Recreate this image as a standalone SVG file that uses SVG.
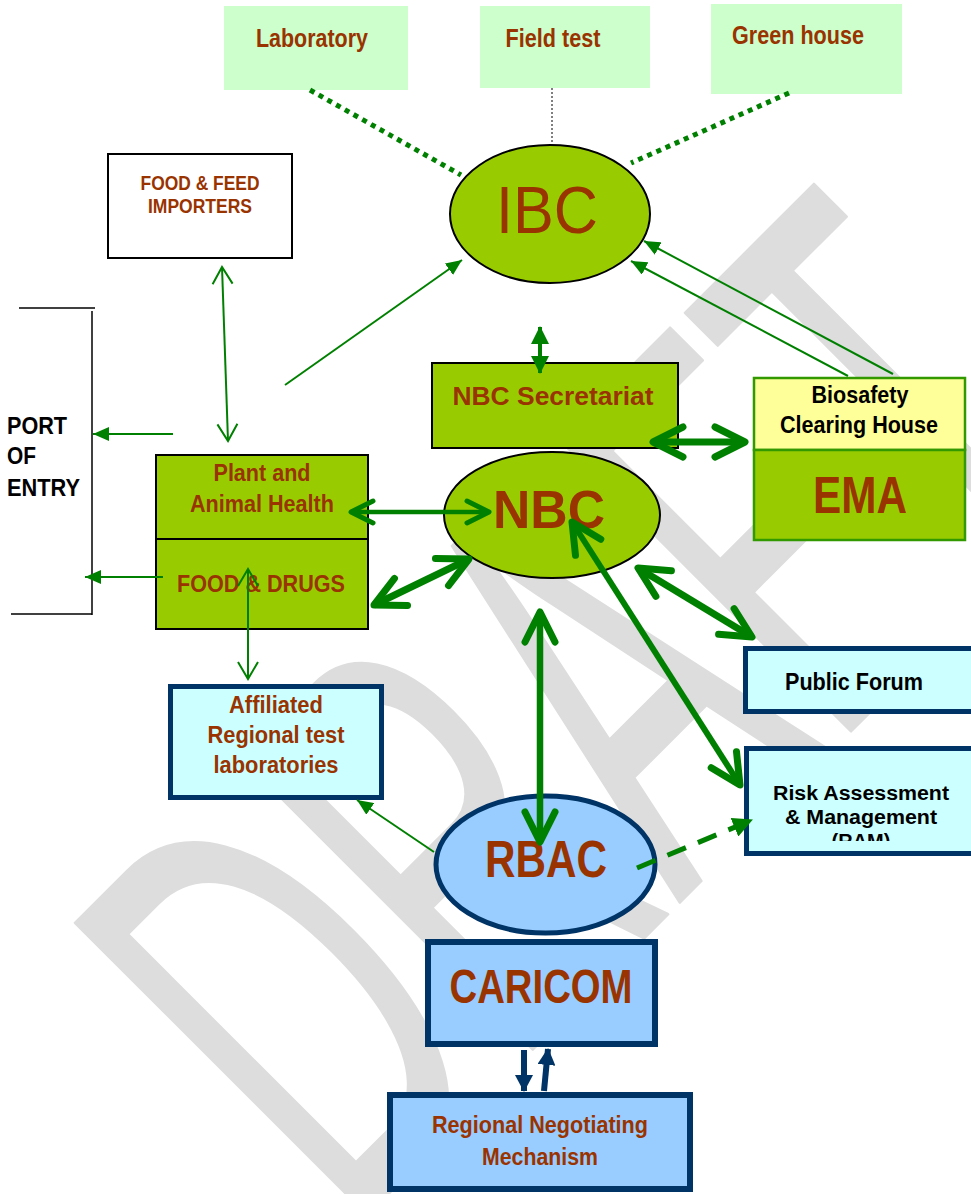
<svg xmlns="http://www.w3.org/2000/svg" width="971" height="1194" viewBox="0 0 971 1194">
<style>
.br{font-family:"Liberation Sans",Arial,sans-serif;font-weight:bold;fill:#993300;text-anchor:middle}
.bk{font-family:"Liberation Sans",Arial,sans-serif;font-weight:bold;fill:#000;text-anchor:middle}
.tn{stroke:#008000;stroke-width:2;fill:none}
.tk{stroke:#008000;fill:none;stroke-linecap:butt}
.bl{stroke:#003366;stroke-width:6;fill:none}
.g1{fill:#ccffcc}
.gr{fill:#99cc00;stroke:#000;stroke-width:2}
.cy{fill:#ccffff;stroke:#003366;stroke-width:5}
.lb{fill:#99ccff;stroke:#003366;stroke-width:6}
</style>
<defs>
<marker id="fa" viewBox="0 0 16 14" refX="16" refY="7" markerWidth="16" markerHeight="14" markerUnits="userSpaceOnUse" orient="auto"><path d="M0,0 L16,7 L0,14 z" fill="#008000"/></marker>
<marker id="vt" viewBox="-20 -12 22 24" refX="0" refY="0" markerWidth="22" markerHeight="24" markerUnits="userSpaceOnUse" orient="auto-start-reverse"><path d="M-17,-10 L0,0 L-17,10" fill="none" stroke="#008000" stroke-width="2"/></marker>
<marker id="vm" viewBox="-28 -16 32 32" refX="0" refY="0" markerWidth="32" markerHeight="32" markerUnits="userSpaceOnUse" orient="auto-start-reverse"><path d="M-22,-11 L0,0 L-22,11" fill="none" stroke="#008000" stroke-width="5" stroke-linecap="round" stroke-linejoin="round"/></marker>
<marker id="vk" viewBox="-36 -20 40 40" refX="0" refY="0" markerWidth="40" markerHeight="40" markerUnits="userSpaceOnUse" orient="auto-start-reverse"><path d="M-30,-15 L0,0 L-30,15" fill="none" stroke="#008000" stroke-width="7" stroke-linecap="round" stroke-linejoin="round"/></marker>
<marker id="ft" viewBox="0 0 18 18" refX="17" refY="9" markerWidth="18" markerHeight="18" markerUnits="userSpaceOnUse" orient="auto-start-reverse"><path d="M0,0 L18,9 L0,18 z" fill="#008000"/></marker>
<marker id="fd" viewBox="0 0 20 20" refX="19" refY="10" markerWidth="20" markerHeight="20" markerUnits="userSpaceOnUse" orient="auto"><path d="M0,0 L20,10 L0,20 z" fill="#008000"/></marker>
<marker id="fb" viewBox="0 0 17 18" refX="16" refY="9" markerWidth="17" markerHeight="18" markerUnits="userSpaceOnUse" orient="auto"><path d="M0,0 L17,9 L0,18 z" fill="#003366"/></marker>
<clipPath id="ramclip"><rect x="744" y="746" width="227" height="95"/></clipPath>
</defs>

<g id="watermark">
<text transform="translate(348,1234) rotate(-45) scale(0.54,1)" font-family="Liberation Sans" font-size="600" fill="#dddddd" stroke="#dddddd" stroke-width="3" stroke-linejoin="round">DRAFT</text>
</g>

<g id="port-bracket" stroke="#000" stroke-width="1.5" fill="none">
<line x1="19" y1="308" x2="95" y2="308"/>
<line x1="92" y1="311" x2="92" y2="615"/>
<line x1="11" y1="614" x2="92" y2="614"/>
</g>

<g id="laboratory"><rect class="g1" x="224" y="6" width="184" height="84"/><text class="br" x="312" y="47" font-size="25" textLength="112" lengthAdjust="spacingAndGlyphs">Laboratory</text></g>
<g id="field-test"><rect class="g1" x="480" y="6" width="170" height="82"/><text class="br" x="553" y="47" font-size="25" textLength="95" lengthAdjust="spacingAndGlyphs">Field test</text></g>
<g id="green-house"><rect class="g1" x="711" y="4" width="191" height="90"/><text class="br" x="798" y="44" font-size="25" textLength="132" lengthAdjust="spacingAndGlyphs">Green house</text></g>

<g id="food-feed-importers"><rect x="108" y="154" width="184" height="104" fill="#fff" stroke="#000" stroke-width="2"/>
<text class="br" x="200" y="190" font-size="21" textLength="119" lengthAdjust="spacingAndGlyphs">FOOD &amp; FEED</text>
<text class="br" x="200" y="213" font-size="21" textLength="104" lengthAdjust="spacingAndGlyphs">IMPORTERS</text></g>

<g id="port-of-entry">
<text class="bk" style="text-anchor:start" x="7" y="434" font-size="24" textLength="60" lengthAdjust="spacingAndGlyphs">PORT</text>
<text class="bk" style="text-anchor:start" x="7" y="464" font-size="24" textLength="29" lengthAdjust="spacingAndGlyphs">OF</text>
<text class="bk" style="text-anchor:start" x="7" y="496" font-size="24" textLength="73" lengthAdjust="spacingAndGlyphs">ENTRY</text>
</g>

<g id="ibc"><ellipse class="gr" cx="550" cy="214" rx="100" ry="69"/><text x="547" y="233" font-family="Liberation Sans, Arial, sans-serif" font-size="66" fill="#993300" text-anchor="middle" textLength="102" lengthAdjust="spacingAndGlyphs">IBC</text></g>

<g id="plant-animal-health"><rect class="gr" x="156" y="455" width="212" height="84"/>
<text class="br" x="262" y="481" font-size="23" textLength="97" lengthAdjust="spacingAndGlyphs">Plant and</text>
<text class="br" x="262" y="512" font-size="23" textLength="144" lengthAdjust="spacingAndGlyphs">Animal Health</text></g>
<g id="food-drugs"><rect class="gr" x="156" y="539" width="212" height="90"/>
<text class="br" x="261" y="592" font-size="24" textLength="168" lengthAdjust="spacingAndGlyphs">FOOD &amp; DRUGS</text></g>

<g id="nbc-secretariat"><rect class="gr" x="432" y="363" width="246" height="85"/>
<text class="br" x="553" y="405" font-size="26" textLength="201" lengthAdjust="spacingAndGlyphs">NBC Secretariat</text></g>

<g id="biosafety-clearing-house"><rect x="754" y="378" width="211" height="72" fill="#ffff99" stroke="#339900" stroke-width="2.5"/>
<text class="bk" x="860" y="403" font-size="23" textLength="97" lengthAdjust="spacingAndGlyphs">Biosafety</text>
<text class="bk" x="859" y="433" font-size="23" textLength="158" lengthAdjust="spacingAndGlyphs">Clearing House</text></g>
<g id="ema"><rect x="754" y="450" width="211" height="90" fill="#99cc00" stroke="#339900" stroke-width="2.5"/>
<text class="br" x="860" y="513" font-size="52" textLength="94" lengthAdjust="spacingAndGlyphs">EMA</text></g>

<g id="nbc"><ellipse class="gr" cx="552" cy="515" rx="108" ry="63"/>
<text class="br" x="549" y="528" font-size="53" textLength="112" lengthAdjust="spacingAndGlyphs">NBC</text></g>

<g id="affiliated-labs"><rect class="cy" x="170.5" y="686.5" width="211" height="111"/>
<text class="br" x="276" y="713" font-size="23" textLength="94" lengthAdjust="spacingAndGlyphs">Affiliated</text>
<text class="br" x="276" y="743" font-size="23" textLength="137" lengthAdjust="spacingAndGlyphs">Regional test</text>
<text class="br" x="276" y="773" font-size="23" textLength="125" lengthAdjust="spacingAndGlyphs">laboratories</text></g>

<g id="public-forum"><rect class="cy" x="745.5" y="648.5" width="300" height="63"/>
<text class="bk" x="854" y="690" font-size="24" textLength="138" lengthAdjust="spacingAndGlyphs">Public Forum</text></g>

<g id="risk-assessment"><rect class="cy" x="746.5" y="748.5" width="300" height="105"/>
<text class="bk" x="861" y="800" font-size="20" textLength="176" lengthAdjust="spacingAndGlyphs">Risk Assessment</text>
<text class="bk" x="861" y="824" font-size="20" textLength="152" lengthAdjust="spacingAndGlyphs">&amp; Management</text>
<text class="bk" x="861" y="848" font-size="20" clip-path="url(#ramclip)">(RAM)</text></g>

<g id="rbac"><ellipse cx="545.5" cy="864.5" rx="109.5" ry="68.5" fill="#99ccff" stroke="#003366" stroke-width="5"/>
<text class="br" x="546" y="877" font-size="52" textLength="122" lengthAdjust="spacingAndGlyphs">RBAC</text></g>

<g id="caricom"><rect class="lb" x="428" y="942" width="227" height="102"/>
<text class="br" x="541" y="1003" font-size="48" textLength="183" lengthAdjust="spacingAndGlyphs">CARICOM</text></g>

<g id="regional-negotiating-mechanism"><rect class="lb" x="390" y="1095" width="300" height="94"/>
<text class="br" x="540" y="1133" font-size="24" textLength="216" lengthAdjust="spacingAndGlyphs">Regional Negotiating</text>
<text class="br" x="540" y="1165" font-size="24" textLength="116" lengthAdjust="spacingAndGlyphs">Mechanism</text></g>

<g id="connectors">
<line x1="310" y1="90" x2="461" y2="175" stroke="#008000" stroke-width="5" stroke-dasharray="5 5"/>
<line x1="789" y1="93" x2="631" y2="163" stroke="#008000" stroke-width="5" stroke-dasharray="5 5"/>
<line x1="552" y1="88" x2="552" y2="143" stroke="#000" stroke-width="1" stroke-dasharray="2 2"/>
<line class="tn" x1="222" y1="267" x2="228" y2="441" marker-start="url(#vt)" marker-end="url(#vt)"/>
<line class="tn" x1="173" y1="434" x2="93" y2="434" marker-end="url(#fa)"/>
<line class="tn" x1="163" y1="577" x2="85" y2="577" marker-end="url(#fa)"/>
<line class="tn" x1="285" y1="385" x2="462" y2="260" marker-end="url(#fa)"/>
<line class="tn" x1="848" y1="376" x2="631" y2="261" marker-end="url(#fa)"/>
<line class="tn" x1="893" y1="374" x2="644" y2="241" marker-end="url(#fa)"/>
<line class="tn" x1="434" y1="852" x2="357" y2="800" marker-end="url(#fa)"/>
<line class="tn" x1="248" y1="569" x2="248" y2="679" marker-start="url(#vt)" marker-end="url(#vt)"/>
<line class="tk" stroke-width="4" x1="540" y1="327" x2="540" y2="373" marker-start="url(#ft)" marker-end="url(#ft)"/>
<line class="tk" stroke-width="7" x1="653" y1="442" x2="745" y2="442" marker-start="url(#vk)" marker-end="url(#vk)"/>
<line class="tk" stroke-width="4.5" x1="351" y1="512" x2="489" y2="512" marker-start="url(#vm)" marker-end="url(#vm)"/>
<line class="tk" stroke-width="7" x1="374" y1="605" x2="469" y2="559" marker-start="url(#vk)" marker-end="url(#vk)"/>
<line class="tk" stroke-width="6.5" x1="540" y1="612" x2="540" y2="842" marker-start="url(#vk)" marker-end="url(#vk)"/>
<line class="tk" stroke-width="6" x1="572" y1="522" x2="740" y2="785" marker-start="url(#vk)" marker-end="url(#vk)"/>
<line class="tk" stroke-width="7" x1="638" y1="568" x2="752" y2="637" marker-start="url(#vk)" marker-end="url(#vk)"/>
<line x1="637" y1="868" x2="752" y2="820" stroke="#008000" stroke-width="5" stroke-dasharray="20 13" marker-end="url(#fd)"/>
<line class="bl" x1="524" y1="1050" x2="524" y2="1091" marker-end="url(#fb)"/>
<line class="bl" x1="544" y1="1091" x2="548" y2="1049" marker-end="url(#fb)"/>
</g>
</svg>
